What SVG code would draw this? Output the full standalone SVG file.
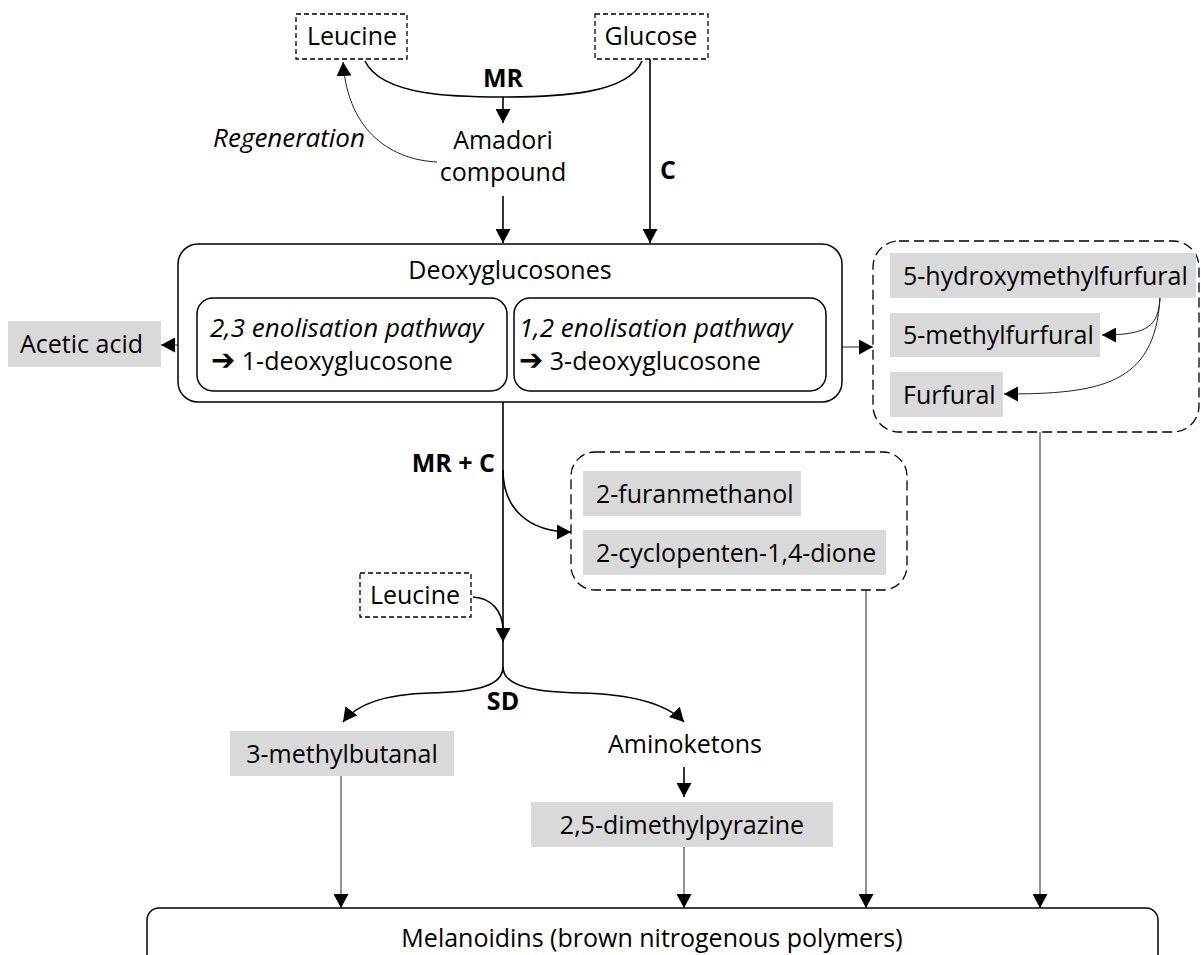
<svg xmlns="http://www.w3.org/2000/svg" width="1201" height="955" viewBox="0 0 1201 955">
<style>
.t{font-family:"Open Sans","Noto Sans","DejaVu Sans",sans-serif;font-size:25px;fill:#000}
.b{font-weight:bold}
.i{font-style:italic;font-size:26px}
.m{text-anchor:middle}
.e{text-anchor:end}
.ar{font-family:"DejaVu Sans",sans-serif;font-size:29px;font-weight:bold}
.grey{fill:#d9d9d9;stroke:none}
.d1{fill:#fff;stroke:#000;stroke-width:1.3;stroke-dasharray:5,3}
.d2{fill:none;stroke:#000;stroke-width:1.3;stroke-dasharray:10,5}
.box{fill:#fff;stroke:#000;stroke-width:1.5}
.c{fill:none;stroke:#000;stroke-width:1.6}
.thin{fill:none;stroke:#222;stroke-width:1}
</style>
<defs>
<marker id="ah" markerWidth="15" markerHeight="15" refX="14" refY="7.5" orient="auto" markerUnits="userSpaceOnUse">
<path d="M0,0 L14,7.5 L0,15 z" fill="#000"/>
</marker>
</defs>
<rect width="1201" height="955" fill="#fff"/>

<g id="connectors">
<path class="c" d="M365,61 C382,97 460,97 503,97 C560,97 628,94 642,61"/>
<path class="c" d="M503,97 L503,123" marker-end="url(#ah)"/>
<path class="thin" d="M437,162 C395,160 348,135 343,62" marker-end="url(#ah)"/>
<path class="c" d="M650,59 L650,243" marker-end="url(#ah)"/>
<path class="c" d="M503,196 L503,243" marker-end="url(#ah)"/>
<path class="thin" d="M197,345 L161,345" marker-end="url(#ah)"/>
<path class="thin" d="M826,347 L873,347" marker-end="url(#ah)"/>
<path class="thin" d="M1160,298 C1158,325 1150,335 1102,335" marker-end="url(#ah)"/>
<path class="thin" d="M1160,298 C1155,385 1100,394 1004,394" marker-end="url(#ah)"/>
<path class="c" d="M503,402 L503,642" marker-end="url(#ah)"/>
<path class="c" d="M503,470 C503,510 530,532 571,532" marker-end="url(#ah)"/>
<path class="c" d="M473,597 C492,598 503,612 503,630"/>
<path class="c" d="M503,640 L503,667"/>
<path class="c" d="M503,667 C503,688 470,692 430,693 C390,694 358,702 343,722" marker-end="url(#ah)"/>
<path class="c" d="M503,667 C503,688 540,692 580,693 C625,694 665,702 684,722" marker-end="url(#ah)"/>
<path class="c" d="M684,767 L684,797" marker-end="url(#ah)"/>
<path class="thin" d="M341,776 L341,908" marker-end="url(#ah)"/>
<path class="thin" d="M684,847 L684,908" marker-end="url(#ah)"/>
<path class="thin" d="M866,590 L866,908" marker-end="url(#ah)"/>
<path class="thin" d="M1040,432 L1040,908" marker-end="url(#ah)"/>
</g>

<g id="leucine-top">
<rect class="d1" x="296" y="14" width="111" height="45"/>
<text class="t m" x="352" y="45">Leucine</text>
</g>
<g id="glucose">
<rect class="d1" x="595" y="14" width="113" height="45"/>
<text class="t m" x="651" y="45">Glucose</text>
</g>
<g id="label-mr"><text class="t b m" x="503" y="87">MR</text></g>
<g id="amadori">
<text class="t m" x="503" y="149">Amadori</text>
<text class="t m" x="503" y="181">compound</text>
</g>
<g id="label-regeneration"><text class="t i e" x="365" y="147">Regeneration</text></g>
<g id="label-c"><text class="t b m" x="668" y="179">C</text></g>

<g id="deoxyglucosones">
<rect class="box" x="178" y="244" width="664" height="158" rx="20"/>
<text class="t m" x="510" y="279">Deoxyglucosones</text>
</g>
<g id="pathway-23">
<rect class="box" x="197" y="298" width="310" height="93" rx="16"/>
<text class="t i" x="210" y="337">2,3 enolisation pathway</text>
<text class="t" x="211" y="370"><tspan class="ar">➔</tspan> 1-deoxyglucosone</text>
</g>
<g id="pathway-12">
<rect class="box" x="514" y="298" width="312" height="93" rx="16"/>
<text class="t i" x="519" y="337">1,2 enolisation pathway</text>
<text class="t" x="519" y="370"><tspan class="ar">➔</tspan> 3-deoxyglucosone</text>
</g>
<g id="acetic-acid">
<rect class="grey" x="8" y="321" width="153" height="46"/>
<text class="t" x="20" y="353">Acetic acid</text>
</g>

<g id="furans-group">
<rect class="d2" x="873" y="241" width="326" height="191" rx="26"/>
</g>
<g id="hmf">
<rect class="grey" x="890" y="253" width="306" height="45"/>
<text class="t" x="903" y="285">5-hydroxymethylfurfural</text>
</g>
<g id="methylfurfural">
<rect class="grey" x="890" y="313" width="210" height="44"/>
<text class="t" x="903" y="344">5-methylfurfural</text>
</g>
<g id="furfural">
<rect class="grey" x="890" y="372" width="113" height="45"/>
<text class="t" x="903" y="404">Furfural</text>
</g>

<g id="label-mrc"><text class="t b e" x="495" y="472">MR + C</text></g>

<g id="cyclic-group">
<rect class="d2" x="571" y="452" width="336" height="138" rx="24"/>
</g>
<g id="furanmethanol">
<rect class="grey" x="583" y="471" width="218" height="45"/>
<text class="t" x="596" y="503">2-furanmethanol</text>
</g>
<g id="cyclopentendione">
<rect class="grey" x="583" y="530" width="303" height="45"/>
<text class="t" x="596" y="562">2-cyclopenten-1,4-dione</text>
</g>

<g id="leucine-bottom">
<rect class="d1" x="360" y="573" width="111" height="44"/>
<text class="t m" x="415" y="604">Leucine</text>
</g>
<g id="label-sd"><text class="t b m" x="503" y="710">SD</text></g>
<g id="methylbutanal">
<rect class="grey" x="230" y="731" width="224" height="45"/>
<text class="t m" x="342" y="763">3-methylbutanal</text>
</g>
<g id="aminoketons"><text class="t m" x="685" y="753">Aminoketons</text></g>
<g id="dimethylpyrazine">
<rect class="grey" x="531" y="802" width="302" height="45"/>
<text class="t m" x="682" y="834">2,5-dimethylpyrazine</text>
</g>
<g id="melanoidins">
<rect class="box" x="147" y="908" width="1011" height="70" rx="12"/>
<text class="t m" x="652" y="947">Melanoidins (brown nitrogenous polymers)</text>
</g>
</svg>
